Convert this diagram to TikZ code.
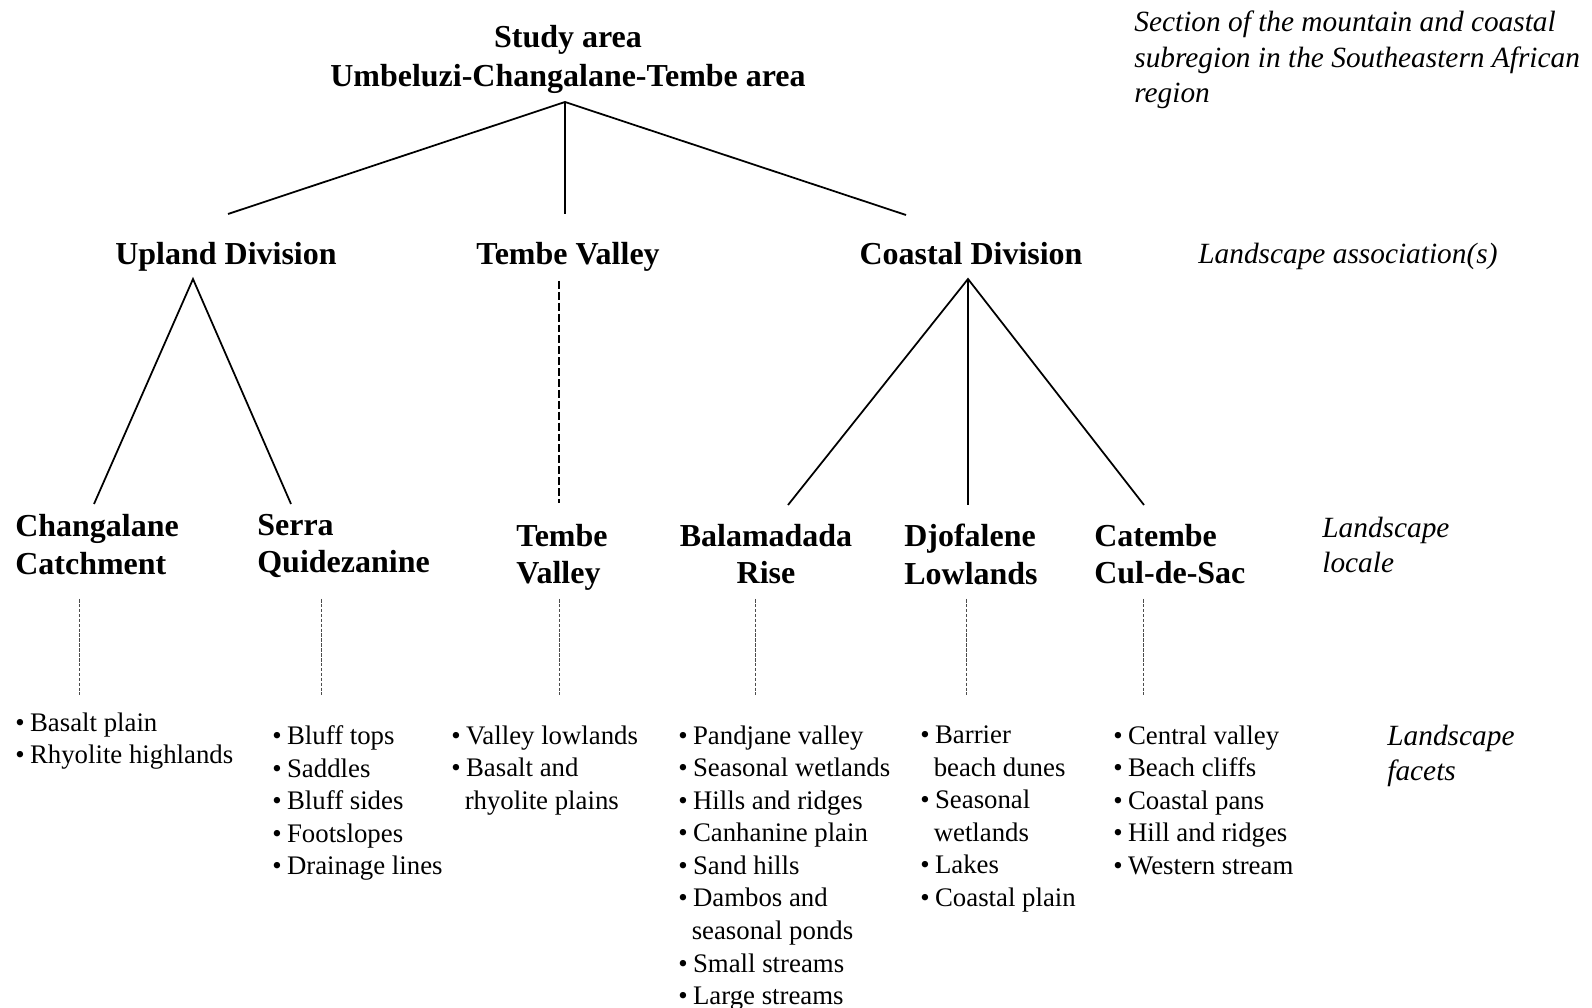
\documentclass[tikz,border=0pt]{standalone}
\usepackage{fontspec}
\setmainfont{Liberation Serif}
\usetikzlibrary{positioning}
\newcommand{\bul}{\textbullet\hspace{0.2em}}
\newcommand{\cont}{\hspace{0.5em}}
\tikzset{
  area/.style   = {font=\fontsize{18.2}{22.2}\selectfont\bfseries, align=center,
                   inner sep=0pt, anchor=north},
  unit/.style   = {font=\fontsize{18.2}{21.6}\selectfont\bfseries, inner sep=0pt},
  facet/.style  = {font=\fontsize{15.25}{18.5}\selectfont, align=left,
                   inner sep=0pt, anchor=north west},
  tier/.style   = {font=\fontsize{16.7}{20.3}\selectfont\itshape, align=left,
                   inner sep=0pt, anchor=north west},
  branch/.style = {line width=1pt},
  gap/.style    = {line width=0.8pt, dash pattern=on 4.5pt off 1.7pt},
  trace/.style  = {line width=0.5pt, draw=black!70, dash pattern=on 2pt off 0.8pt},
}

\begin{document}
\begin{tikzpicture}
\useasboundingbox (0,0) rectangle (318.4mm,-201.6mm);

% ---- study area and divisions ----
\node[area] (study) at (113.6mm,-4.9mm) {Study area\\Umbeluzi-Changalane-Tembe area};
\node[unit, anchor=north] (upland) at (45.2mm,-48.3mm) {Upland Division};
\node[unit, anchor=north] (tembediv) at (113.6mm,-48.3mm) {Tembe Valley};
\node[unit, anchor=north] (coastal) at (194.2mm,-48.3mm) {Coastal Division};

\coordinate (apex) at (113mm,-20.4mm);
\coordinate (uplandtop) at (45.6mm,-42.8mm);
\coordinate (tembetop) at (113mm,-42.8mm);
\coordinate (coastaltop) at (181.2mm,-43mm);
\draw[branch] (uplandtop) -- (apex) -- (coastaltop);
\draw[branch] (apex) -- (tembetop);

% ---- landscape locales ----
\node[unit, align=left, anchor=north west] (changalane) at (3mm,-102.7mm) {Changalane\\Catchment};
\node[unit, align=left, anchor=north west] (serra) at (51.4mm,-102.7mm) {Serra\\Quidezanine};
\node[unit, align=left, anchor=north west] (tembe) at (103.2mm,-104.7mm) {Tembe\\Valley};
\node[unit, align=center, anchor=north] (balamadada) at (153.2mm,-104.7mm) {Balamadada\\Rise};
\node[unit, align=left, anchor=north west] (djofalene) at (180.8mm,-104.7mm) {Djofalene\\Lowlands};
\node[unit, align=left, anchor=north west] (catembe) at (218.8mm,-104.7mm) {Catembe\\Cul-de-Sac};

\coordinate (uplandfoot) at (38.6mm,-55.8mm);
\coordinate (coastalfoot) at (193.6mm,-55.8mm);
\draw[branch] (18.8mm,-100.8mm) coordinate (changalanetop) -- (uplandfoot) -- (58.2mm,-100.8mm) coordinate (serratop);
\draw[gap] (111.8mm,-56.2mm) coordinate (tembefoot) -- (111.8mm,-100.6mm) coordinate (tembeend);
\draw[branch] (157.6mm,-101mm) coordinate (balatop) -- (coastalfoot) -- (228.8mm,-101mm) coordinate (catembetop);
\draw[branch] (coastalfoot) -- (193.6mm,-101mm) coordinate (djotop);

% ---- landscape facets ----
\foreach \x/\n in {15.8/changalane, 64.2/serra, 111.8/tembe, 151/balamadada, 193.2/djofalene, 228.6/catembe}
  \draw[trace] (\x mm,-119.8mm) coordinate (\n up) -- (\x mm,-139mm) coordinate (\n down);

\node[facet] (fchangalane) at (3mm,-142.5mm) {\bul Basalt plain\\\bul Rhyolite highlands};
\node[facet] (fserra) at (54.4mm,-145.1mm) {\bul Bluff tops\\\bul Saddles\\\bul Bluff sides\\\bul Footslopes\\\bul Drainage lines};
\node[facet] (ftembe) at (90.2mm,-145.1mm) {\bul Valley lowlands\\\bul Basalt and\\\cont rhyolite plains};
\node[facet] (fbalamadada) at (135.6mm,-145.1mm) {\bul Pandjane valley\\\bul Seasonal wetlands\\\bul Hills and ridges\\\bul Canhanine plain\\\bul Sand hills\\\bul Dambos and\\\cont seasonal ponds\\\bul Small streams\\\bul Large streams};
\node[facet] (fdjofalene) at (184mm,-145.1mm) {\bul Barrier\\\cont beach dunes\\\bul Seasonal\\\cont wetlands\\\bul Lakes\\\bul Coastal plain};
\node[facet] (fcatembe) at (222.6mm,-145.1mm) {\bul Central valley\\\bul Beach cliffs\\\bul Coastal pans\\\bul Hill and ridges\\\bul Western stream};

% ---- level captions ----
\node[tier] (section) at (226.8mm,-2.1mm) {Section of the mountain and coastal\\subregion in the Southeastern African\\region};
\node[tier] (association) at (239.6mm,-48.5mm) {Landscape association(s)};
\node[tier] (locale) at (264.4mm,-103.3mm) {Landscape\\locale};
\node[tier] (facets) at (277.4mm,-144.9mm) {Landscape\\facets};

\end{tikzpicture}
\end{document}
